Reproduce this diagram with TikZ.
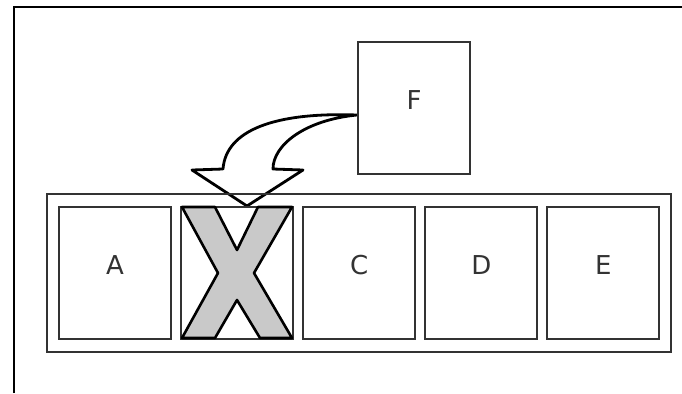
\documentclass[tikz,border=0pt]{standalone}
\usepackage{fontspec}
\setmainfont{DejaVu Sans}
\usetikzlibrary{positioning,fit}

\tikzset{
	cell/.style={draw=black!80, line width=0.95pt, minimum width=56pt, minimum height=66pt,
		inner sep=0pt, text depth=8pt, font=\fontsize{13}{13}\selectfont, text=black!80},
	row/.style={draw=black!80, line width=0.95pt, inner xsep=5.5pt, inner ysep=6pt},
	cross/.style={draw=black, line width=1.3pt, fill=black!21, line join=round},
	bigarrow/.style={draw=black, line width=1.4pt, line join=round},
}

\begin{document}
\begin{tikzpicture}[x=0.5pt, y=-0.5pt, node distance=4.1pt]
		\useasboundingbox (0,0) rectangle (682,393);
		\draw[line width=1.1pt] (14,393) -- (14,7) -- (682,7);
		
		% the bent arrow from F down to the slot
		\draw[bigarrow] (357,115) .. controls (275,112) and (226,130) .. (223,169)
			-- (192,170) -- (247,206) -- (303,170) -- (273,169)
			.. controls (273,145) and (305,120) .. (357,115);
		
		\node[cell] (a) at (115,273) {A};
		\node[cell, right=of a] (b) {};
		\node[cell, right=of b] (c) {C};
		\node[cell, right=of c] (d) {D};
		\node[cell, right=of d] (e) {E};
		\node[row, fit=(a)(e)] (slots) {};
		\node[cell] (f) at (414,108) {F};
		
		% the removed one
		\draw[cross] (182,207) -- (215,207) -- (237,250) -- (258,207) -- (292,207)
			-- (254,273) -- (292,338) -- (260,338) -- (237,300) -- (215,338)
			-- (182,338) -- (218,273) -- cycle;
	\end{tikzpicture}
\end{document}
